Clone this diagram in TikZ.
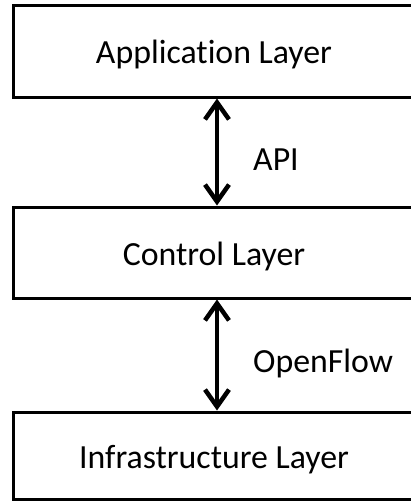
\documentclass[tikz,border=0pt]{standalone}
\usepackage{fontspec}
\setmainfont[Ligatures=NoCommon]{Carlito}
\usetikzlibrary{arrows.meta}
\begin{document}
\begin{tikzpicture}[x=1pt,y=1pt,
    layer/.style={draw, line width=3pt, minimum width=402pt, inner sep=0pt,
      text height=25pt, text depth=0pt, font=\fontsize{33.8}{40}\selectfont},
    link/.style={line width=4.5pt,
      {Straight Barb[length=17pt,width=24pt]}-{Straight Barb[length=17pt,width=24pt]}},
    tag/.style={anchor=base west, inner sep=0pt, font=\fontsize{33.8}{40}\selectfont}]
            \useasboundingbox (0,0) rectangle (411,-501);
            \clip (0,0) rectangle (411,-501);
            % the three layers
            \node[layer, minimum height=92pt] (app) at (214,-51) {Application Layer};
            \node[layer, minimum height=91pt] (ctrl) at (214,-252.5) {Control Layer};
            \node[layer, minimum height=87pt] (infra) at (214,-455.5) {Infrastructure Layer};
            % interfaces between them
            \draw[link] ([xshift=3pt]app.south) -- ([xshift=3pt]ctrl.north);
            \draw[link] ([xshift=3pt]ctrl.south) -- ([xshift=3pt]infra.north);
            \node[tag] (api) at (253,-170) {API};
            \node[tag] (openflow) at (253,-372) {OpenFlow};
        \end{tikzpicture}
\end{document}
